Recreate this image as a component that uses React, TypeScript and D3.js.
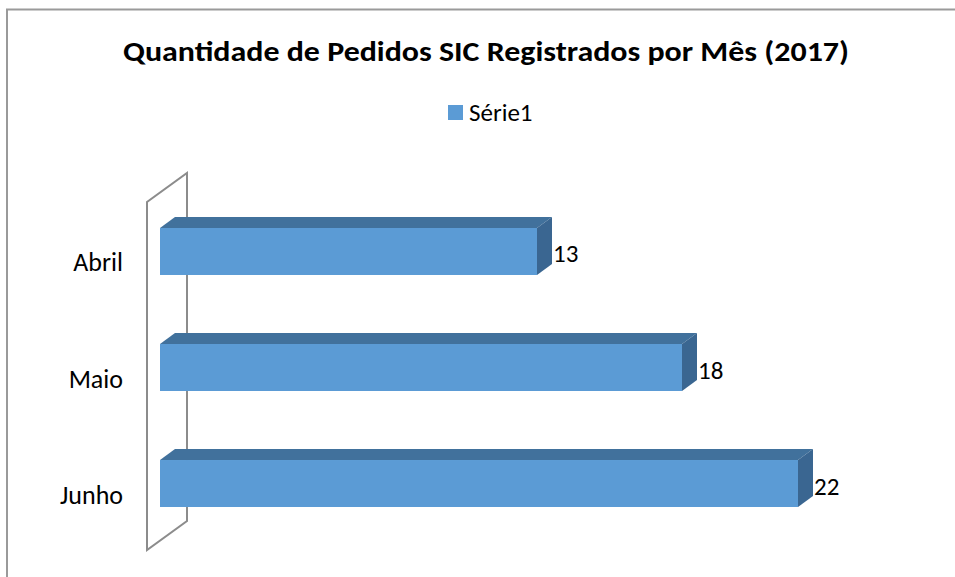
import React from "react";
import * as d3 from "d3";

const title = "Quantidade de Pedidos SIC Registrados por Mês (2017)";
const seriesName = "Série1";
const months = ["Abril", "Maio", "Junho"];
const pedidos = [13, 18, 22];

const W = 955;
const H = 577;
const FONT = "Carlito, Calibri, 'Open Sans', sans-serif";

export default function App() {
  // 3d offsets for bars and the back wall
  const depth = { dx: 15, dy: -11 };
  const wallDepth = { dx: 40, dy: -29 };

  const x = d3.scaleLinear().domain([0, 25]).range([160, 885]);
  const y = d3.scaleBand<string>().domain(months).range([228, 507]).paddingInner(0.595).paddingOuter(0);
  const bh = y.bandwidth();

  const wallX = 147;
  const wallTop = 202;
  const wallBottom = 550;

  const wallPath = d3.path();
  wallPath.moveTo(wallX, wallBottom);
  wallPath.lineTo(wallX, wallTop);
  wallPath.lineTo(wallX + wallDepth.dx, wallTop + wallDepth.dy);
  wallPath.lineTo(wallX + wallDepth.dx, wallBottom + wallDepth.dy);
  wallPath.closePath();

  return (
    <svg width={W} height={H} style={{ position: "absolute", left: 0, top: 0 }}>
      <rect x={0} y={0} width={W} height={H} fill="#fff" />
      {/* chart area border */}
      <rect x={7} y={9.5} width={W + 20} height={H + 20} fill="none" stroke="#9a9a9a" strokeWidth={2} />

      <text x={486} y={61} textAnchor="middle" fontFamily={FONT} fontWeight="bold" fontSize={29}
        textLength={726} lengthAdjust="spacingAndGlyphs" fill="#000">
        {title}
      </text>

      {/* legend */}
      <rect x={448} y={105} width={15} height={15} fill="#5b9bd5" />
      <text x={469} y={121} fontFamily={FONT} fontSize={25} fill="#000">{seriesName}</text>

      {/* back wall */}
      <path d={wallPath.toString()} fill="none" stroke="#8c8c8c" strokeWidth={2} />

      {months.map((m, i) => {
        const y0 = y(m)!;
        const x0 = x(0);
        const x1 = x(pedidos[i]);
        const top = `M${x0},${y0} L${x0 + depth.dx},${y0 + depth.dy} L${x1 + depth.dx},${y0 + depth.dy} L${x1},${y0} Z`;
        const side = `M${x1},${y0} L${x1 + depth.dx},${y0 + depth.dy} L${x1 + depth.dx},${y0 + bh + depth.dy} L${x1},${y0 + bh} Z`;
        return (
          <g key={m}>
            <rect x={x0} y={y0} width={x1 - x0} height={bh} fill="#5b9bd5" />
            <path d={top} fill="#41719c" />
            <path d={side} fill="#3a6691" />
            <text x={x1 + depth.dx + 1} y={y0 + bh / 2 + 11} fontFamily={FONT} fontSize={25} fill="#000">
              {pedidos[i]}
            </text>
            <text x={123} y={y0 + bh / 2 + 20} textAnchor="end" fontFamily={FONT} fontSize={26} fill="#000">
              {m}
            </text>
          </g>
        );
      })}
    </svg>
  );
}
